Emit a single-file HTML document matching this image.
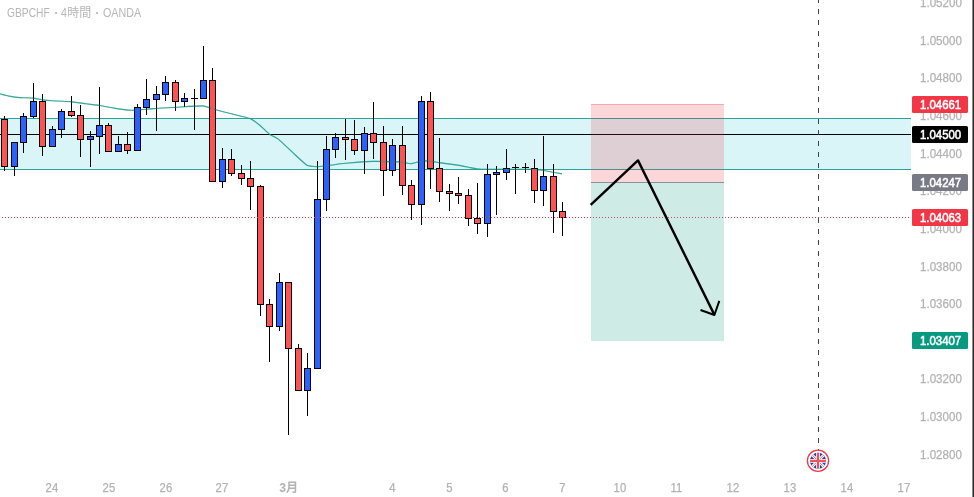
<!DOCTYPE html>
<html lang="ja"><head><meta charset="utf-8"><title>GBPCHF</title>
<style>
html,body{margin:0;padding:0;background:#fff;}
body{width:974px;height:497px;position:relative;overflow:hidden;font-family:"Liberation Sans","Noto Sans CJK JP",sans-serif;}
svg{position:absolute;left:0;top:0;}
.title{position:absolute;left:0;top:4.5px;font-size:12px;line-height:16px;color:#b6b6b6;white-space:nowrap;}
.title span{position:absolute;top:0;display:block;transform-origin:0 50%;}
.pl{position:absolute;left:920.1px;width:48px;height:16px;line-height:16px;font-size:12.4px;color:#b2b2b2;}
.pl span{-webkit-text-stroke:0.25px #b2b2b2;display:inline-block;transform:scaleX(0.935);transform-origin:0 50%;}
.tag span{display:inline-block;transform:scaleX(0.92);transform-origin:0 50%;position:relative;top:1.1px;-webkit-text-stroke:0.55px #fff;}
.tl span{-webkit-text-stroke:0.25px #b2b2b2;display:inline-block;position:relative;left:0.3px;transform:scaleX(0.91);transform-origin:50% 50%;}
.tl{position:absolute;top:479.5px;width:40px;text-align:center;height:16px;line-height:16px;font-size:12.4px;color:#b2b2b2;}
.tl.b{font-weight:bold;}
.tl.b span{transform:scaleX(0.98);-webkit-text-stroke:0;}
.tag{position:absolute;left:912px;width:56px;height:17px;line-height:17px;border-radius:1.5px;color:#fff;font-weight:normal;font-size:12.4px;box-sizing:border-box;padding-left:8.2px;}
</style></head><body>
<svg width="974" height="497" viewBox="0 0 974 497" shape-rendering="crispEdges">
<rect x="0" y="2" width="911" height="1" fill="#fefefe"/><rect x="0" y="40" width="911" height="1" fill="#fefefe"/><rect x="0" y="78" width="911" height="1" fill="#fefefe"/><rect x="0" y="115" width="911" height="1" fill="#fefefe"/><rect x="0" y="153" width="911" height="1" fill="#fefefe"/><rect x="0" y="191" width="911" height="1" fill="#fefefe"/><rect x="0" y="228" width="911" height="1" fill="#fefefe"/><rect x="0" y="266" width="911" height="1" fill="#fefefe"/><rect x="0" y="303" width="911" height="1" fill="#fefefe"/><rect x="0" y="341" width="911" height="1" fill="#fefefe"/><rect x="0" y="379" width="911" height="1" fill="#fefefe"/><rect x="0" y="416" width="911" height="1" fill="#fefefe"/><rect x="0" y="454" width="911" height="1" fill="#fefefe"/><rect x="52" y="0" width="1" height="472" fill="#fefefe"/><rect x="108" y="0" width="1" height="472" fill="#fefefe"/><rect x="165" y="0" width="1" height="472" fill="#fefefe"/><rect x="222" y="0" width="1" height="472" fill="#fefefe"/><rect x="288" y="0" width="1" height="472" fill="#fefefe"/><rect x="392" y="0" width="1" height="472" fill="#fefefe"/><rect x="449" y="0" width="1" height="472" fill="#fefefe"/><rect x="505" y="0" width="1" height="472" fill="#fefefe"/><rect x="562" y="0" width="1" height="472" fill="#fefefe"/><rect x="619" y="0" width="1" height="472" fill="#fefefe"/><rect x="675" y="0" width="1" height="472" fill="#fefefe"/><rect x="732" y="0" width="1" height="472" fill="#fefefe"/><rect x="789" y="0" width="1" height="472" fill="#fefefe"/><rect x="846" y="0" width="1" height="472" fill="#fefefe"/><rect x="903" y="0" width="1" height="472" fill="#fefefe"/>
<rect x="972" y="0" width="1" height="497" fill="#8c8c8c"/><rect x="973" y="0" width="1" height="497" fill="#2a2a2a"/>
<!-- band -->
<rect x="0" y="118" width="911" height="52" fill="#d9f5f8"/>
<rect x="0" y="118" width="911" height="1" fill="#26a69a"/>
<rect x="0" y="169" width="911" height="1" fill="#26a69a"/>
<rect x="0" y="134" width="911" height="1" fill="#000"/>
<!-- ma -->
<path d="M0,93.8 C0.55,93.94 8.00,95.87 9.2,96.1 C10.40,96.33 18.57,97.48 20,97.6 C21.43,97.72 31.71,97.96 33.1,98.1 C34.49,98.24 41.94,99.74 43.1,99.9 C44.26,100.06 50.74,100.60 52.4,100.7 C54.06,100.80 68.77,101.41 70.8,101.6 C72.83,101.79 84.44,103.57 86.2,103.8 C87.96,104.03 98.43,105.24 100.1,105.5 C101.77,105.76 112.34,107.82 114,108.1 C115.66,108.38 126.37,109.98 127.8,110.1 C129.23,110.22 136.47,110.17 137.8,110.1 C139.13,110.03 148.76,109.01 150,108.9 C151.24,108.79 156.88,108.40 158.5,108.3 C160.12,108.20 174.34,107.34 177,107.2 C179.66,107.06 200.47,105.74 202.8,105.9 C205.13,106.06 214.02,109.31 215.8,109.8 C217.58,110.29 230.35,113.48 232.4,114 C234.45,114.52 248.34,117.81 250,118.5 C251.66,119.19 258.94,124.56 260.1,125.5 C261.26,126.44 268.29,133.37 269.4,134.2 C270.51,135.03 277.16,138.26 278.6,139.4 C280.04,140.54 291.70,151.65 293.4,153.2 C295.10,154.75 305.44,164.40 306.9,165.2 C308.36,166.00 316.49,166.56 317.7,166.6 C318.91,166.64 325.61,165.97 327,165.8 C328.39,165.63 339.05,164.00 340.8,163.8 C342.55,163.60 354.26,162.54 356.2,162.4 C358.14,162.26 371.17,161.45 373.2,161.4 C375.23,161.35 388.35,161.56 390.1,161.6 C391.85,161.64 401.15,161.97 402.4,162.1 C403.65,162.23 409.79,163.85 410.9,163.8 C412.01,163.75 419.75,161.36 420.9,161.2 C422.05,161.04 428.90,161.02 430,161.1 C431.10,161.18 437.54,162.36 439.2,162.6 C440.86,162.84 455.94,164.82 457.7,165.1 C459.46,165.38 467.39,166.98 468.5,167.2 C469.61,167.42 475.09,168.67 476.2,168.8 C477.31,168.93 483.68,169.36 487,169.4 C490.32,169.44 528.37,169.36 531.6,169.4 C534.83,169.44 539.60,169.83 540.9,170 C542.20,170.17 551.93,172.07 553.2,172.3 C554.47,172.53 561.47,173.80 562,173.9" fill="none" stroke="#12998a" stroke-opacity="0.75" stroke-width="1.1" shape-rendering="auto" stroke-linejoin="round"/>
<!-- candles -->
<g>
<rect x="4" y="116" width="1" height="55" fill="#000"/>
<rect x="1" y="119" width="7" height="48" fill="#000"/>
<rect x="2" y="120" width="5" height="46" fill="#ff5252"/>
<rect x="14" y="142" width="1" height="34" fill="#000"/>
<rect x="11" y="142" width="7" height="25" fill="#000"/>
<rect x="12" y="143" width="5" height="23" fill="#2962ff"/>
<rect x="23" y="113" width="1" height="40" fill="#000"/>
<rect x="20" y="116" width="7" height="27" fill="#000"/>
<rect x="21" y="117" width="5" height="25" fill="#2962ff"/>
<rect x="33" y="83" width="1" height="35" fill="#000"/>
<rect x="30" y="101" width="7" height="16" fill="#000"/>
<rect x="31" y="102" width="5" height="14" fill="#2962ff"/>
<rect x="42" y="94" width="1" height="62" fill="#000"/>
<rect x="39" y="101" width="7" height="46" fill="#000"/>
<rect x="40" y="102" width="5" height="44" fill="#ff5252"/>
<rect x="52" y="126" width="1" height="21" fill="#000"/>
<rect x="49" y="129" width="7" height="18" fill="#000"/>
<rect x="50" y="130" width="5" height="16" fill="#2962ff"/>
<rect x="61" y="109" width="1" height="29" fill="#000"/>
<rect x="58" y="111" width="7" height="19" fill="#000"/>
<rect x="59" y="112" width="5" height="17" fill="#2962ff"/>
<rect x="71" y="96" width="1" height="21" fill="#000"/>
<rect x="68" y="111" width="7" height="5" fill="#000"/>
<rect x="69" y="112" width="5" height="3" fill="#ff5252"/>
<rect x="80" y="105" width="1" height="52" fill="#000"/>
<rect x="77" y="115" width="7" height="25" fill="#000"/>
<rect x="78" y="116" width="5" height="23" fill="#ff5252"/>
<rect x="90" y="131" width="1" height="36" fill="#000"/>
<rect x="87" y="136" width="7" height="4" fill="#000"/>
<rect x="88" y="137" width="5" height="2" fill="#2962ff"/>
<rect x="99" y="87" width="1" height="67" fill="#000"/>
<rect x="96" y="125" width="7" height="12" fill="#000"/>
<rect x="97" y="126" width="5" height="10" fill="#2962ff"/>
<rect x="108" y="123" width="1" height="29" fill="#000"/>
<rect x="105" y="125" width="7" height="27" fill="#000"/>
<rect x="106" y="126" width="5" height="25" fill="#ff5252"/>
<rect x="118" y="136" width="1" height="16" fill="#000"/>
<rect x="115" y="144" width="7" height="8" fill="#000"/>
<rect x="116" y="145" width="5" height="6" fill="#2962ff"/>
<rect x="127" y="132" width="1" height="22" fill="#000"/>
<rect x="124" y="144" width="7" height="7" fill="#000"/>
<rect x="125" y="145" width="5" height="5" fill="#ff5252"/>
<rect x="137" y="104" width="1" height="47" fill="#000"/>
<rect x="134" y="107" width="7" height="44" fill="#000"/>
<rect x="135" y="108" width="5" height="42" fill="#2962ff"/>
<rect x="146" y="79" width="1" height="36" fill="#000"/>
<rect x="143" y="99" width="7" height="9" fill="#000"/>
<rect x="144" y="100" width="5" height="7" fill="#2962ff"/>
<rect x="156" y="86" width="1" height="45" fill="#000"/>
<rect x="153" y="94" width="7" height="6" fill="#000"/>
<rect x="154" y="95" width="5" height="4" fill="#2962ff"/>
<rect x="165" y="76" width="1" height="25" fill="#000"/>
<rect x="162" y="82" width="7" height="13" fill="#000"/>
<rect x="163" y="83" width="5" height="11" fill="#2962ff"/>
<rect x="175" y="80" width="1" height="31" fill="#000"/>
<rect x="172" y="82" width="7" height="20" fill="#000"/>
<rect x="173" y="83" width="5" height="18" fill="#ff5252"/>
<rect x="184" y="93" width="1" height="14" fill="#000"/>
<rect x="181" y="98" width="7" height="4" fill="#000"/>
<rect x="182" y="99" width="5" height="2" fill="#2962ff"/>
<rect x="194" y="89" width="1" height="41" fill="#000"/>
<rect x="191" y="98" width="7" height="1" fill="#000"/>
<rect x="203" y="46" width="1" height="53" fill="#000"/>
<rect x="200" y="80" width="7" height="19" fill="#000"/>
<rect x="201" y="81" width="5" height="17" fill="#2962ff"/>
<rect x="212" y="68" width="1" height="114" fill="#000"/>
<rect x="209" y="80" width="7" height="102" fill="#000"/>
<rect x="210" y="81" width="5" height="100" fill="#ff5252"/>
<rect x="222" y="148" width="1" height="40" fill="#000"/>
<rect x="219" y="159" width="7" height="23" fill="#000"/>
<rect x="220" y="160" width="5" height="21" fill="#2962ff"/>
<rect x="231" y="149" width="1" height="27" fill="#000"/>
<rect x="228" y="159" width="7" height="15" fill="#000"/>
<rect x="229" y="160" width="5" height="13" fill="#ff5252"/>
<rect x="241" y="165" width="1" height="20" fill="#000"/>
<rect x="238" y="173" width="7" height="6" fill="#000"/>
<rect x="239" y="174" width="5" height="4" fill="#ff5252"/>
<rect x="250" y="161" width="1" height="49" fill="#000"/>
<rect x="247" y="178" width="7" height="9" fill="#000"/>
<rect x="248" y="179" width="5" height="7" fill="#ff5252"/>
<rect x="260" y="185" width="1" height="131" fill="#000"/>
<rect x="257" y="186" width="7" height="119" fill="#000"/>
<rect x="258" y="187" width="5" height="117" fill="#ff5252"/>
<rect x="269" y="299" width="1" height="63" fill="#000"/>
<rect x="266" y="304" width="7" height="23" fill="#000"/>
<rect x="267" y="305" width="5" height="21" fill="#ff5252"/>
<rect x="279" y="273" width="1" height="58" fill="#000"/>
<rect x="276" y="282" width="7" height="45" fill="#000"/>
<rect x="277" y="283" width="5" height="43" fill="#2962ff"/>
<rect x="288" y="282" width="1" height="153" fill="#000"/>
<rect x="285" y="282" width="7" height="67" fill="#000"/>
<rect x="286" y="283" width="5" height="65" fill="#ff5252"/>
<rect x="298" y="344" width="1" height="47" fill="#000"/>
<rect x="295" y="348" width="7" height="43" fill="#000"/>
<rect x="296" y="349" width="5" height="41" fill="#ff5252"/>
<rect x="307" y="353" width="1" height="63" fill="#000"/>
<rect x="304" y="368" width="7" height="23" fill="#000"/>
<rect x="305" y="369" width="5" height="21" fill="#2962ff"/>
<rect x="317" y="161" width="1" height="208" fill="#000"/>
<rect x="314" y="199" width="7" height="170" fill="#000"/>
<rect x="315" y="200" width="5" height="168" fill="#2962ff"/>
<rect x="326" y="136" width="1" height="75" fill="#000"/>
<rect x="323" y="149" width="7" height="51" fill="#000"/>
<rect x="324" y="150" width="5" height="49" fill="#2962ff"/>
<rect x="335" y="133" width="1" height="25" fill="#000"/>
<rect x="332" y="137" width="7" height="13" fill="#000"/>
<rect x="333" y="138" width="5" height="11" fill="#2962ff"/>
<rect x="345" y="119" width="1" height="41" fill="#000"/>
<rect x="342" y="137" width="7" height="3" fill="#000"/>
<rect x="343" y="138" width="5" height="1" fill="#ff5252"/>
<rect x="354" y="120" width="1" height="35" fill="#000"/>
<rect x="351" y="139" width="7" height="12" fill="#000"/>
<rect x="352" y="140" width="5" height="10" fill="#ff5252"/>
<rect x="364" y="127" width="1" height="47" fill="#000"/>
<rect x="361" y="133" width="7" height="18" fill="#000"/>
<rect x="362" y="134" width="5" height="16" fill="#2962ff"/>
<rect x="373" y="102" width="1" height="57" fill="#000"/>
<rect x="370" y="133" width="7" height="10" fill="#000"/>
<rect x="371" y="134" width="5" height="8" fill="#ff5252"/>
<rect x="383" y="126" width="1" height="70" fill="#000"/>
<rect x="380" y="142" width="7" height="29" fill="#000"/>
<rect x="381" y="143" width="5" height="27" fill="#ff5252"/>
<rect x="392" y="139" width="1" height="37" fill="#000"/>
<rect x="389" y="145" width="7" height="26" fill="#000"/>
<rect x="390" y="146" width="5" height="24" fill="#2962ff"/>
<rect x="402" y="126" width="1" height="69" fill="#000"/>
<rect x="399" y="145" width="7" height="41" fill="#000"/>
<rect x="400" y="146" width="5" height="39" fill="#ff5252"/>
<rect x="411" y="180" width="1" height="40" fill="#000"/>
<rect x="408" y="185" width="7" height="20" fill="#000"/>
<rect x="409" y="186" width="5" height="18" fill="#ff5252"/>
<rect x="421" y="96" width="1" height="129" fill="#000"/>
<rect x="418" y="101" width="7" height="104" fill="#000"/>
<rect x="419" y="102" width="5" height="102" fill="#2962ff"/>
<rect x="430" y="92" width="1" height="97" fill="#000"/>
<rect x="427" y="101" width="7" height="68" fill="#000"/>
<rect x="428" y="102" width="5" height="66" fill="#ff5252"/>
<rect x="439" y="138" width="1" height="64" fill="#000"/>
<rect x="436" y="168" width="7" height="24" fill="#000"/>
<rect x="437" y="169" width="5" height="22" fill="#ff5252"/>
<rect x="449" y="184" width="1" height="27" fill="#000"/>
<rect x="446" y="191" width="7" height="3" fill="#000"/>
<rect x="447" y="192" width="5" height="1" fill="#ff5252"/>
<rect x="458" y="177" width="1" height="27" fill="#000"/>
<rect x="455" y="193" width="7" height="3" fill="#000"/>
<rect x="456" y="194" width="5" height="1" fill="#ff5252"/>
<rect x="468" y="189" width="1" height="37" fill="#000"/>
<rect x="465" y="195" width="7" height="24" fill="#000"/>
<rect x="466" y="196" width="5" height="22" fill="#ff5252"/>
<rect x="477" y="183" width="1" height="51" fill="#000"/>
<rect x="474" y="218" width="7" height="6" fill="#000"/>
<rect x="475" y="219" width="5" height="4" fill="#ff5252"/>
<rect x="487" y="164" width="1" height="73" fill="#000"/>
<rect x="484" y="174" width="7" height="50" fill="#000"/>
<rect x="485" y="175" width="5" height="48" fill="#2962ff"/>
<rect x="496" y="166" width="1" height="49" fill="#000"/>
<rect x="493" y="172" width="7" height="3" fill="#000"/>
<rect x="494" y="173" width="5" height="1" fill="#2962ff"/>
<rect x="506" y="149" width="1" height="31" fill="#000"/>
<rect x="503" y="168" width="7" height="5" fill="#000"/>
<rect x="504" y="169" width="5" height="3" fill="#2962ff"/>
<rect x="515" y="164" width="1" height="30" fill="#000"/>
<rect x="512" y="167" width="7" height="1" fill="#000"/>
<rect x="525" y="163" width="1" height="10" fill="#000"/>
<rect x="522" y="167" width="7" height="1" fill="#000"/>
<rect x="534" y="159" width="1" height="44" fill="#000"/>
<rect x="531" y="168" width="7" height="23" fill="#000"/>
<rect x="532" y="169" width="5" height="21" fill="#ff5252"/>
<rect x="543" y="136" width="1" height="70" fill="#000"/>
<rect x="540" y="176" width="7" height="15" fill="#000"/>
<rect x="541" y="177" width="5" height="13" fill="#2962ff"/>
<rect x="553" y="164" width="1" height="69" fill="#000"/>
<rect x="550" y="176" width="7" height="36" fill="#000"/>
<rect x="551" y="177" width="5" height="34" fill="#ff5252"/>
<rect x="562" y="202" width="1" height="34" fill="#000"/>
<rect x="559" y="211" width="7" height="7" fill="#000"/>
<rect x="560" y="212" width="5" height="5" fill="#ff5252"/>
</g>
<!-- ma over -->
<path d="M0,93.8 C0.55,93.94 8.00,95.87 9.2,96.1 C10.40,96.33 18.57,97.48 20,97.6 C21.43,97.72 31.71,97.96 33.1,98.1 C34.49,98.24 41.94,99.74 43.1,99.9 C44.26,100.06 50.74,100.60 52.4,100.7 C54.06,100.80 68.77,101.41 70.8,101.6 C72.83,101.79 84.44,103.57 86.2,103.8 C87.96,104.03 98.43,105.24 100.1,105.5 C101.77,105.76 112.34,107.82 114,108.1 C115.66,108.38 126.37,109.98 127.8,110.1 C129.23,110.22 136.47,110.17 137.8,110.1 C139.13,110.03 148.76,109.01 150,108.9 C151.24,108.79 156.88,108.40 158.5,108.3 C160.12,108.20 174.34,107.34 177,107.2 C179.66,107.06 200.47,105.74 202.8,105.9 C205.13,106.06 214.02,109.31 215.8,109.8 C217.58,110.29 230.35,113.48 232.4,114 C234.45,114.52 248.34,117.81 250,118.5 C251.66,119.19 258.94,124.56 260.1,125.5 C261.26,126.44 268.29,133.37 269.4,134.2 C270.51,135.03 277.16,138.26 278.6,139.4 C280.04,140.54 291.70,151.65 293.4,153.2 C295.10,154.75 305.44,164.40 306.9,165.2 C308.36,166.00 316.49,166.56 317.7,166.6 C318.91,166.64 325.61,165.97 327,165.8 C328.39,165.63 339.05,164.00 340.8,163.8 C342.55,163.60 354.26,162.54 356.2,162.4 C358.14,162.26 371.17,161.45 373.2,161.4 C375.23,161.35 388.35,161.56 390.1,161.6 C391.85,161.64 401.15,161.97 402.4,162.1 C403.65,162.23 409.79,163.85 410.9,163.8 C412.01,163.75 419.75,161.36 420.9,161.2 C422.05,161.04 428.90,161.02 430,161.1 C431.10,161.18 437.54,162.36 439.2,162.6 C440.86,162.84 455.94,164.82 457.7,165.1 C459.46,165.38 467.39,166.98 468.5,167.2 C469.61,167.42 475.09,168.67 476.2,168.8 C477.31,168.93 483.68,169.36 487,169.4 C490.32,169.44 528.37,169.36 531.6,169.4 C534.83,169.44 539.60,169.83 540.9,170 C542.20,170.17 551.93,172.07 553.2,172.3 C554.47,172.53 561.47,173.80 562,173.9" fill="none" stroke="#12998a" stroke-opacity="0.38" stroke-width="1.1" shape-rendering="auto" stroke-linejoin="round"/>
<!-- price line -->
<line x1="2" y1="217.5" x2="910" y2="217.5" stroke="#f23645" stroke-width="1" stroke-dasharray="1 2"/>
<!-- position -->
<rect x="591" y="104" width="133" height="78" fill="#f23645" fill-opacity="0.2"/>
<rect x="591" y="104" width="133" height="1" fill="#f23645" fill-opacity="0.3"/>
<rect x="591" y="182" width="133" height="159" fill="#089981" fill-opacity="0.2"/>
<rect x="591" y="182" width="133" height="1" fill="#787b86" fill-opacity="0.8"/>
<!-- arrow -->
<g shape-rendering="auto" fill="none" stroke="#000" stroke-width="2.4" stroke-linejoin="round" stroke-linecap="butt">
<polyline points="590.7,204.8 638,160.4 714.3,314.6"/>
<polyline points="700.5,310 714.4,315 719.3,300.8" stroke-width="2"/>
</g>
<!-- dashed vertical -->
<line x1="818.5" y1="-2" x2="818.5" y2="451" stroke="#444" stroke-width="1" stroke-dasharray="5 6"/>
<!-- flag -->
<g shape-rendering="auto">
<circle cx="818" cy="460.8" r="10.6" fill="#fff" stroke="#f23645" stroke-width="1.3"/>
<clipPath id="fc"><circle cx="818" cy="460.8" r="8"/></clipPath>
<g clip-path="url(#fc)">
<rect x="808" y="450" width="20" height="22" fill="#1444b4"/>
<path d="M808 450.8 L828 470.8 M828 450.8 L808 470.8" stroke="#fff" stroke-width="2.8"/>
<path d="M808 450.8 L828 470.8 M828 450.8 L808 470.8" stroke="#f0505a" stroke-width="0.9"/>
<path d="M818 450 V472 M808 460.8 H828" stroke="#fff" stroke-width="3.8"/>
<path d="M818 450 V472 M808 460.8 H828" stroke="#f0505a" stroke-width="2.2"/>
</g></g>
</svg>
<div class="title"><span style="left:6.5px;transform:scaleX(0.854)">GBPCHF</span><span style="left:49.5px;transform:scale(0.8);transform-origin:50% 55%">・</span><span style="left:61.3px;transform:scaleX(0.9)">4</span><span style="left:67.3px">時間</span><span style="left:90.9px;transform:scale(0.8);transform-origin:50% 55%">・</span><span style="left:103.4px;transform:scaleX(0.892)">OANDA</span></div>
<div class="pl" style="top:-5.20px"><span>1.05200</span></div><div class="pl" style="top:32.60px"><span>1.05000</span></div><div class="pl" style="top:70.40px"><span>1.04800</span></div><div class="pl" style="top:108.00px"><span>1.04600</span></div><div class="pl" style="top:145.60px"><span>1.04400</span></div><div class="pl" style="top:183.20px"><span>1.04200</span></div><div class="pl" style="top:220.80px"><span>1.04000</span></div><div class="pl" style="top:259.25px"><span>1.03800</span></div><div class="pl" style="top:296.00px"><span>1.03600</span></div><div class="pl" style="top:333.60px"><span>1.03400</span></div><div class="pl" style="top:371.20px"><span>1.03200</span></div><div class="pl" style="top:408.50px"><span>1.03000</span></div><div class="pl" style="top:447.35px"><span>1.02800</span></div>
<div class="tl" style="left:32.0px"><span>24</span></div><div class="tl" style="left:88.5px"><span>25</span></div><div class="tl" style="left:145.2px"><span>26</span></div><div class="tl" style="left:202.0px"><span>27</span></div><div class="tl b" style="left:268.0px"><span>3月</span></div><div class="tl" style="left:372.3px"><span>4</span></div><div class="tl" style="left:429.0px"><span>5</span></div><div class="tl" style="left:485.6px"><span>6</span></div><div class="tl" style="left:542.3px"><span>7</span></div><div class="tl" style="left:599.3px"><span>10</span></div><div class="tl" style="left:655.8px"><span>11</span></div><div class="tl" style="left:712.6px"><span>12</span></div><div class="tl" style="left:769.4px"><span>13</span></div><div class="tl" style="left:826.3px"><span>14</span></div><div class="tl" style="left:883.2px"><span>17</span></div>
<div class="tag" style="top:96px;background:#f23645"><span>1.04661</span></div>
<div class="tag" style="top:126px;background:#000"><span>1.04500</span></div>
<div class="tag" style="top:174px;background:#787b86"><span>1.04247</span></div>
<div class="tag" style="top:209px;background:#f23645"><span>1.04063</span></div>
<div class="tag" style="top:332px;background:#089981"><span>1.03407</span></div>
</body></html>
